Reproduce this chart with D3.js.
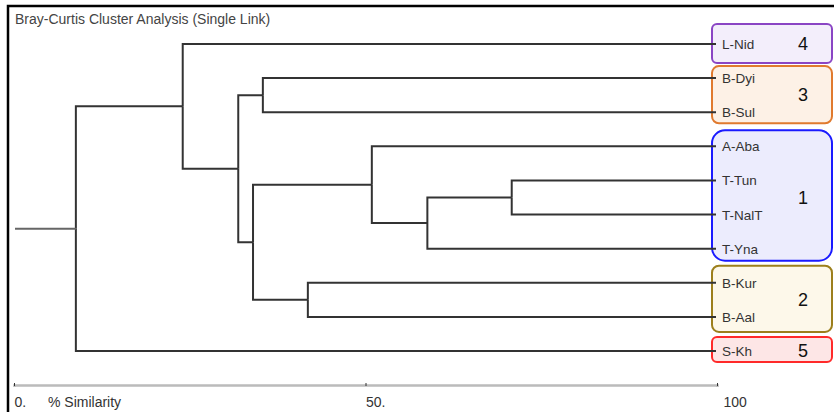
<!DOCTYPE html>
<html>
<head>
<meta charset="UTF-8">
<title>Bray-Curtis Cluster Analysis</title>
<style>
  body { margin: 0; background: #fff; }
  text { font-family: Arial, "Liberation Sans", sans-serif; }
</style>
</head>
<body>
<script src="https://cdn.jsdelivr.net/npm/d3@7"></script>
<script>
// leaves top to bottom
var leaves = ["L-Nid", "B-Dyi", "B-Sul", "A-Aba", "T-Tun", "T-NalT", "T-Yna", "B-Kur", "B-Aal", "S-Kh"];

// merges: [id, childA, childB, % similarity]
var merges = [
  ["H", "T-Tun", "T-NalT", 70.8],
  ["G", "H", "T-Yna", 58.8],
  ["E", "A-Aba", "G", 50.9],
  ["F", "B-Kur", "B-Aal", 41.8],
  ["C", "B-Dyi", "B-Sul", 35.4],
  ["D", "E", "F", 34.0],
  ["B", "C", "D", 31.9],
  ["A", "L-Nid", "B", 24.0],
  ["root", "A", "S-Kh", 8.8]
];

var axisTicks = [0, 50, 100];
var axisLabels = ["0.", "50.", "100"];

// group boxes on the right
var groupNames = ["4", "3", "1", "2", "5"];
var groupMembers = [["L-Nid"], ["B-Dyi", "B-Sul"], ["A-Aba", "T-Tun", "T-NalT", "T-Yna"], ["B-Kur", "B-Aal"], ["S-Kh"]];

// box styling (layout, not data)
var boxStroke = ["#8a45c4", "#e07a2e", "#1a1aff", "#9c7f1c", "#ff2a2a"];
var boxFill = ["#f3eefb", "#fdf1e6", "#ececfd", "#fdf8ea", "#fde6e6"];
var boxPad = [[20, 19], [12, 11], [16, 12], [17, 15], [14, 11]];
var boxRadius = [5, 7, 13, 7, 5];

var width = 834, height = 412;
var svg = d3.select('body').append('svg')
  .attr('width', width)
  .attr('height', height);

var x = d3.scaleLinear().domain([0, 100]).range([14, 717]);
var y = d3.scalePoint().domain(leaves).range([44, 351]);

// frame
svg.append('rect')
  .attr('x', 8).attr('y', 6)
  .attr('width', 900).attr('height', 500)
  .attr('fill', 'none')
  .attr('stroke', '#000')
  .attr('stroke-width', 2.5);

svg.append('text')
  .attr('x', 15).attr('y', 24)
  .attr('font-size', 14)
  .attr('fill', '#444')
  .text('Bray-Curtis Cluster Analysis (Single Link)');

// node positions
var nodeY = {}, nodeX = {};
leaves.forEach(function(l) {
  nodeY[l] = y(l);
  nodeX[l] = x(100);
});
merges.forEach(function(m) {
  nodeY[m[0]] = (nodeY[m[1]] + nodeY[m[2]]) / 2;
  nodeX[m[0]] = x(m[3]);
});

// boxes
var boxes = svg.append('g');
groupNames.forEach(function(g, i) {
  var mem = groupMembers[i];
  var y0 = y(mem[0]) - boxPad[i][0];
  var y1 = y(mem[mem.length - 1]) + boxPad[i][1];
  boxes.append('rect')
    .attr('x', 712).attr('y', y0)
    .attr('width', 120).attr('height', y1 - y0)
    .attr('rx', boxRadius[i]).attr('ry', boxRadius[i])
    .attr('fill', boxFill[i])
    .attr('stroke', boxStroke[i])
    .attr('stroke-width', 2);
  var cy = d3.mean(mem, function(d) { return y(d); });
  boxes.append('text')
    .attr('x', 803).attr('y', cy + 6)
    .attr('text-anchor', 'middle')
    .attr('font-size', 18)
    .attr('font-family', '"Liberation Sans", Arial, sans-serif')
    .attr('fill', '#111')
    .text(g);
});

// dendrogram links
var links = svg.append('g')
  .attr('fill', 'none')
  .attr('stroke', '#333')
  .attr('stroke-width', 2);

merges.forEach(function(m) {
  var px = nodeX[m[0]];
  [m[1], m[2]].forEach(function(c) {
    links.append('path')
      .attr('d', 'M' + px + ',' + nodeY[m[0]] + 'V' + nodeY[c] + 'H' + (leaves.indexOf(c) >= 0 ? 716 : nodeX[c]));
  });
});

// root stem
svg.append('line')
  .attr('x1', x(0) + 1).attr('x2', nodeX['root'])
  .attr('y1', nodeY['root']).attr('y2', nodeY['root'])
  .attr('stroke', '#666')
  .attr('stroke-width', 2);

// leaf labels
svg.append('g').selectAll('text')
  .data(leaves)
  .enter()
  .append('text')
  .attr('x', 722)
  .attr('y', function(d) { return y(d) + 5; })
  .attr('font-size', 13.5)
  .attr('fill', '#333')
  .text(function(d) { return d; });

// axis
var axis = d3.axisBottom(x)
  .tickValues(axisTicks)
  .tickSize(2)
  .tickFormat(function(d, i) { return axisLabels[i]; });

var ax = svg.append('g')
  .attr('transform', 'translate(0,385)')
  .call(axis);
ax.select('.domain').attr('stroke', '#bbb').attr('stroke-width', 2.5);
ax.selectAll('.tick line').attr('stroke', '#333').attr('y1', -2).attr('y2', 1);
ax.selectAll('.tick text')
  .attr('text-anchor', 'start')
  .attr('dy', null)
  .attr('dx', function(d) { return d === 100 ? 6 : 0; })
  .attr('y', 22)
  .style('font-size', '14px')
  .style('font-family', 'Arial, "Liberation Sans", sans-serif')
  .attr('fill', '#333');

svg.append('text')
  .attr('x', 48).attr('y', 407)
  .attr('font-size', 14)
  .attr('fill', '#333')
  .text('% Similarity');
</script>
</body>
</html>
